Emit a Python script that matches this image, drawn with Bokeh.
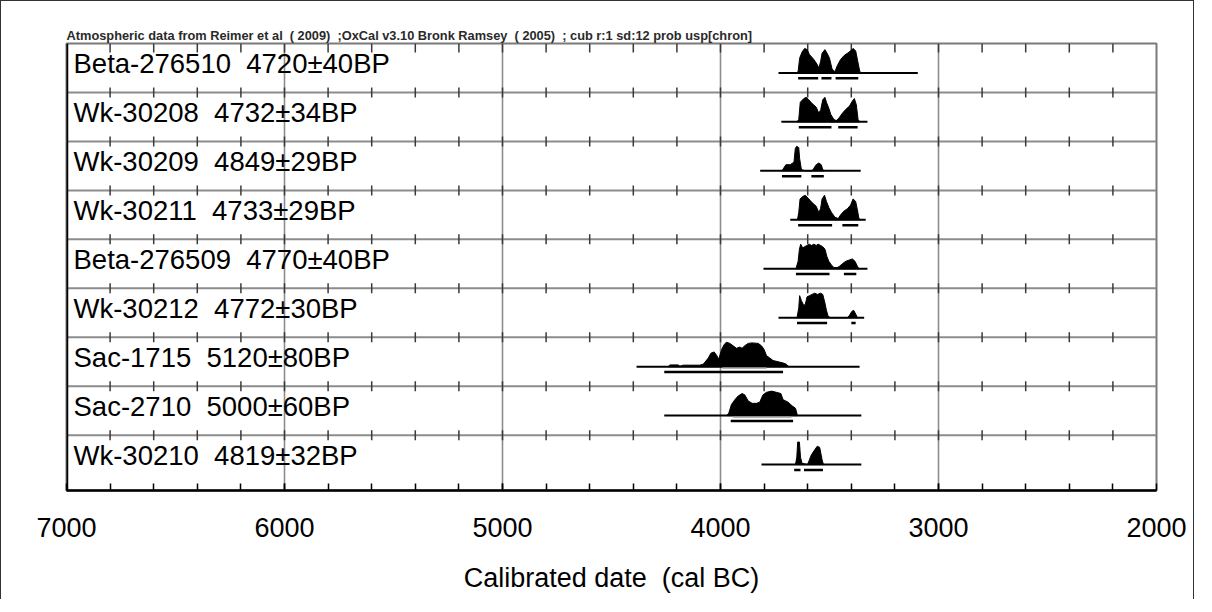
from bokeh.plotting import figure
from bokeh.models import Range1d, FixedTicker, ColumnDataSource
from bokeh.core.properties import value
from bokeh.embed import file_html
from bokeh.resources import INLINE

# ---------------- data ----------------
title_text = ("Atmospheric data from Reimer et al \u00a0( 2009) \u00a0;OxCal v3.10 Bronk Ramsey \u00a0( 2005) \u00a0; "
              "cub r:1 sd:12 prob usp[chron]")
x_label = "Calibrated date \u00a0(cal BC)"

sample_ids = ["Beta-276510", "Wk-30208", "Wk-30209", "Wk-30211", "Beta-276509",
              "Wk-30212", "Sac-1715", "Sac-2710", "Wk-30210"]
bp_ages = [4720, 4732, 4849, 4733, 4770, 4772, 5120, 5000, 4819]
bp_errors = [40, 34, 29, 29, 40, 30, 80, 60, 32]

x_major_ticks = [7000, 6000, 5000, 4000, 3000, 2000]
x_grid_years = [6000, 5000, 4000, 3000]
x_minor_ticks = list(range(2200, 7000, 200))

# probability distributions (cal BC year, relative density)
beta276510_years = [3654, 3644, 3637, 3626, 3614, 3603, 3592, 3572, 3557, 3549, 3541, 3534, 3521, 3511,
                    3500, 3488, 3475, 3464, 3449, 3434, 3418, 3403, 3392, 3380, 3371, 3361, 3352]
beta276510_dens = [0, 0.05, 0.6, 0.85, 1.0, 0.95, 0.75, 0.55, 0.35, 0.2, 0.45, 0.8, 0.95, 0.8,
                   0.6, 0.15, 0.05, 0.3, 0.55, 0.7, 0.8, 0.9, 1.0, 0.9, 0.5, 0.05, 0]

wk30208_years = [3649, 3641, 3634, 3618, 3607, 3595, 3580, 3561, 3549, 3540, 3531, 3521, 3514,
                 3503, 3494, 3480, 3469, 3457, 3441, 3426, 3408, 3395, 3386, 3377, 3369, 3361]
wk30208_dens = [0, 0.1, 0.8, 0.95, 1.0, 0.9, 0.75, 0.6, 0.35, 0.5, 0.9, 1.0, 0.8,
                0.55, 0.3, 0.1, 0.05, 0.15, 0.35, 0.5, 0.65, 0.85, 0.95, 0.7, 0.1, 0]

wk30209_years = [3718, 3707, 3700, 3680, 3672, 3663, 3657, 3651, 3641, 3637, 3629, 3611,
                 3580, 3572, 3561, 3549, 3538, 3531, 3524]
wk30209_dens = [0, 0.15, 0.25, 0.25, 0.3, 0.35, 0.9, 1.0, 0.95, 0.5, 0.05, 0,
                0, 0.1, 0.25, 0.32, 0.25, 0.05, 0]

wk30211_years = [3647, 3641, 3635, 3623, 3611, 3595, 3580, 3561, 3549, 3541, 3534, 3523, 3514,
                 3503, 3491, 3475, 3460, 3449, 3434, 3418, 3403, 3392, 3380, 3372, 3365, 3357]
wk30211_dens = [0, 0.3, 0.85, 0.95, 1.0, 0.85, 0.7, 0.55, 0.3, 0.45, 0.85, 1.0, 0.75,
                0.5, 0.3, 0.1, 0.05, 0.2, 0.35, 0.45, 0.6, 0.85, 0.75, 0.4, 0.05, 0]

beta276509_years = [3654, 3644, 3638, 3632, 3623, 3614, 3603, 3592, 3583, 3572, 3561, 3552, 3541,
                    3531, 3521, 3512, 3503, 3491, 3480, 3464, 3454, 3441, 3426, 3411, 3395, 3383,
                    3372, 3365]
beta276509_dens = [0, 0.3, 0.8, 1.0, 0.85, 0.9, 0.95, 1.0, 0.95, 1.0, 0.95, 1.0, 0.95,
                   0.9, 0.8, 0.5, 0.3, 0.15, 0.05, 0.05, 0.1, 0.2, 0.3, 0.35, 0.4, 0.3,
                   0.1, 0]

wk30212_years = [3649, 3641, 3637, 3629, 3618, 3611, 3603, 3592, 3580, 3568, 3555, 3541, 3531,
                 3521, 3514, 3506, 3495, 3418, 3408, 3398, 3389, 3380, 3372]
wk30212_dens = [0, 0.4, 0.9, 0.7, 0.5, 0.55, 0.85, 0.9, 0.95, 1.0, 0.95, 1.0, 0.95,
                0.6, 0.3, 0.05, 0, 0, 0.1, 0.25, 0.3, 0.15, 0]

sac1715_years = [4240, 4232, 4194, 4186, 4171, 4095, 4079, 4056, 4044, 4029, 4017, 4008, 3995,
                 3983, 3973, 3957, 3942, 3927, 3911, 3901, 3889, 3873, 3855, 3827, 3812, 3800,
                 3789, 3774, 3759, 3736, 3713, 3698, 3687]
sac1715_dens = [0, 0.07, 0.07, 0.02, 0.06, 0.06, 0.1, 0.35, 0.55, 0.6, 0.45, 0.3, 0.7,
                0.9, 1.0, 0.95, 0.85, 0.75, 0.8, 0.75, 0.85, 0.95, 0.97, 0.95, 0.85, 0.7,
                0.45, 0.35, 0.25, 0.2, 0.15, 0.1, 0]

sac2710_years = [3973, 3962, 3950, 3934, 3919, 3901, 3889, 3873, 3855, 3835, 3820, 3805, 3789,
                 3766, 3743, 3723, 3713, 3690, 3672, 3656, 3647]
sac2710_dens = [0, 0.1, 0.45, 0.65, 0.8, 0.9, 0.85, 0.6, 0.5, 0.5, 0.55, 0.85, 0.95,
                1.0, 0.95, 0.9, 0.65, 0.55, 0.4, 0.3, 0]

wk30210_years = [3656, 3650, 3646, 3638, 3633, 3626, 3601, 3594, 3583, 3568, 3556, 3545, 3534, 3528]
wk30210_dens = [0, 0.3, 0.92, 0.92, 0.3, 0.05, 0, 0.15, 0.4, 0.6, 0.75, 0.7, 0.2, 0]

dist_years = [beta276510_years, wk30208_years, wk30209_years, wk30211_years, beta276509_years,
              wk30212_years, sac1715_years, sac2710_years, wk30210_years]
dist_dens = [beta276510_dens, wk30208_dens, wk30209_dens, wk30211_dens, beta276509_dens,
             wk30212_dens, sac1715_dens, sac2710_dens, wk30210_dens]

# extent of each distribution's base line (cal BC)
base_from = [3734, 3721, 3818, 3680, 3803, 3734, 4385, 4258, 3812]
base_to = [3095, 3326, 3357, 3334, 3326, 3341, 3362, 3354, 3354]

# highest-probability ranges drawn under each distribution
range_row = [0, 0, 0, 1, 1, 2, 2, 3, 3, 4, 4, 5, 5, 6, 7, 8, 8]
range_from = [3644, 3537, 3472, 3641, 3460, 3718, 3583, 3644, 3441, 3654, 3434, 3649, 3400,
              4258, 3953, 3662, 3617]
range_to = [3552, 3491, 3368, 3491, 3371, 3629, 3526, 3488, 3368, 3500, 3377, 3511, 3380,
            3713, 3667, 3633, 3530]
# inner (68%) ranges shown on the two Sac samples
inner_row = [6, 7]
inner_from = [3992, 3942]
inner_to = [3789, 3675]

# ---------------- figure ----------------
n_rows = len(sample_ids)
BOTTOM_PAD = 0.13          # the last row box is a little taller in the original
W, H = 1194, 599
MB_TOP, MB_BOTTOM = 42, 110
p = figure(width=W, height=H, output_backend="svg", toolbar_location=None,
           x_range=Range1d(7000, 2000), y_range=Range1d(-BOTTOM_PAD, n_rows),
           min_border_left=65, min_border_right=39, min_border_top=MB_TOP,
           min_border_bottom=MB_BOTTOM)
p.styles = {"border-left": "1px solid #333", "border-top": "1px solid #333",
            "border-right": "1px solid #333"}
p.background_fill_color = "white"
p.border_fill_color = "white"
p.outline_line_color = "#7a7a7a"
p.outline_line_width = 2

FONT = "Liberation Sans"

p.title.text = title_text
p.title.text_font = FONT
p.title.text_font_size = "12.8px"
p.title.text_font_style = "bold"
p.title.text_color = "#2a2a2a"
p.title.align = "left"
p.title.standoff = 1

p.yaxis.visible = False
p.ygrid.visible = False

p.xgrid.ticker = FixedTicker(ticks=x_grid_years)
p.xgrid.grid_line_color = "#8c8c8c"
p.xgrid.grid_line_width = 1.6

ax = p.xaxis[0]
ax.ticker = FixedTicker(ticks=x_major_ticks, minor_ticks=x_minor_ticks)
ax.major_label_overrides = {t: str(t) for t in x_major_ticks}
ax.axis_line_color = "black"
ax.axis_line_width = 2.5
ax.major_tick_in = 7
ax.major_tick_out = 0
ax.minor_tick_in = 7
ax.minor_tick_out = 0
ax.major_tick_line_color = "black"
ax.minor_tick_line_color = "black"
ax.major_tick_line_width = 1.5
ax.minor_tick_line_width = 1.5
ax.major_label_text_font = FONT
ax.major_label_text_font_size = "27px"
ax.major_label_text_color = "black"
ax.major_label_standoff = 27
ax.axis_label = x_label
ax.axis_label_text_font = FONT
ax.axis_label_text_font_size = "27px"
ax.axis_label_text_font_style = "normal"
ax.axis_label_text_color = "black"
ax.axis_label_standoff = 23

# row separators
sep_y = list(range(1, n_rows))
p.segment(x0=[7000] * len(sep_y), x1=[2000] * len(sep_y), y0=sep_y, y1=sep_y,
          line_color="#8c8c8c", line_width=2)

# left frame edge (black)
p.segment(x0=[7000], x1=[7000], y0=[-BOTTOM_PAD], y1=[n_rows], line_color="black", line_width=3.5)

# small tick marks on separators and top edge
px_per_row = (H - MB_TOP - MB_BOTTOM) / (n_rows + BOTTOM_PAD)
tx0, ty0, ty1 = [], [], []
for yv in sep_y:
    for t in x_minor_ticks:
        tx0.append(t); ty0.append(yv - 5 / px_per_row); ty1.append(yv + 5 / px_per_row)
for t in x_minor_ticks:
    tx0.append(t); ty0.append(n_rows - 9 / px_per_row); ty1.append(n_rows)
p.segment(x0=tx0, x1=tx0, y0=ty0, y1=ty1, line_color="#3a3a3a", line_width=1.5)

# distributions
BASE_OFF = 0.6
PEAK = 0.5
xs, ys = [], []
for i in range(n_rows):
    base = n_rows - i - BASE_OFF
    xs.append(list(dist_years[i]))
    ys.append([base + d * PEAK for d in dist_dens[i]])
p.patches(xs=xs, ys=ys, fill_color="black", line_color="black", line_width=1)

# base lines
base_y = [n_rows - i - BASE_OFF for i in range(n_rows)]
p.segment(x0=base_from, x1=base_to, y0=base_y, y1=base_y, line_color="black", line_width=2)

# range bars
ry = [n_rows - r - 0.71 for r in range_row]
p.segment(x0=range_from, x1=range_to, y0=ry, y1=ry, line_color="black", line_width=2.5)
iy = [n_rows - r - 0.63 for r in inner_row]
p.segment(x0=inner_from, x1=inner_to, y0=iy, y1=iy, line_color="#9a9a9a", line_width=1.5)

# row labels
labels = [f"{s} \u00a0{a}\u00b1{e}BP" for s, a, e in zip(sample_ids, bp_ages, bp_errors)]
label_src = ColumnDataSource(dict(x=[7000] * n_rows,
                                  y=[n_rows - i - 0.5 for i in range(n_rows)],
                                  t=labels))
p.text(x="x", y="y", text="t", source=label_src, x_offset=7, y_offset=-4,
       text_font=value(FONT), text_font_size="27.5px", text_color="black",
       text_baseline="middle", text_align="left")

open("out.html", "w").write(file_html(p, INLINE))
